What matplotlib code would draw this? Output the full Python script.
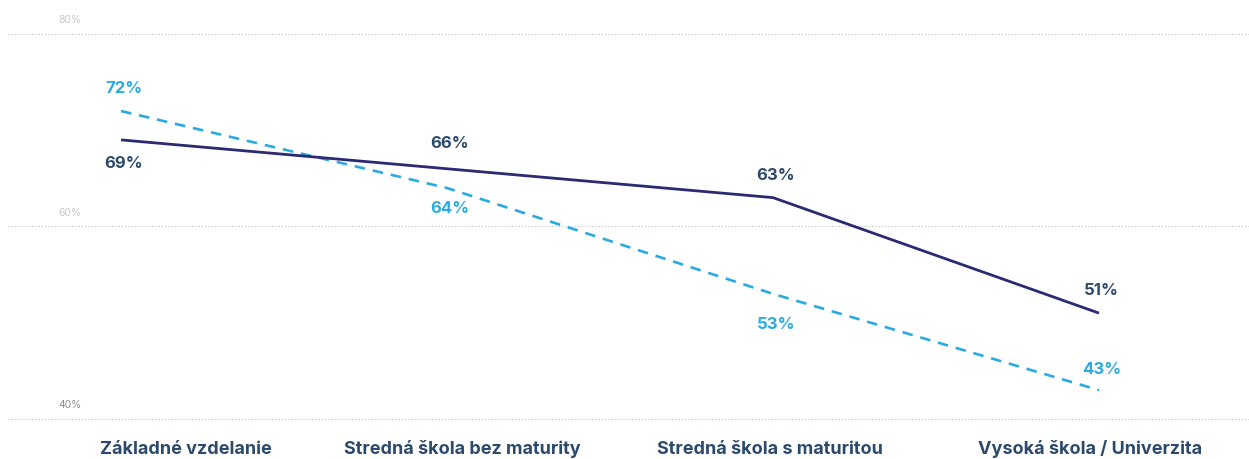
import matplotlib.pyplot as plt
import numpy as np

# Data
categories = ['Základné vzdelanie', 'Stredná škola bez maturity',
              'Stredná škola s maturitou', 'Vysoká škola / Univerzita']
series_dark = [69, 66, 63, 51]
series_blue = [72, 64, 53, 43]
y_ticks = [40, 60, 80]

DARK_LINE = '#2b2a72'
DARK_TEXT = '#2c4a6c'
BLUE = '#29abe2'

plt.rcParams['font.family'] = ['Inter', 'DejaVu Sans']

W, H = 1249, 459
fig = plt.figure(figsize=(W / 100, H / 100), dpi=100)

# axes spans the gridlines: x 8..1249 px, y 34..419 px
ax = fig.add_axes([8 / W, (H - 419) / H, 1 - 8 / W, (419 - 34) / H])
x = np.arange(len(categories))
px_per_unit = 326
x_first = 121
ax.set_xlim((8 - x_first) / px_per_unit, (W - x_first) / px_per_unit)
ax.set_ylim(40, 80)

for s in ax.spines.values():
    s.set_visible(False)
ax.set_xticks([])
ax.set_yticks([])

# gridlines and y labels
for t in y_ticks:
    ax.axhline(t, color='#bdbdbd', lw=0.8, ls=(0, (1, 2)), zorder=0, clip_on=False)
    ax.annotate(f'{t}%', xy=((70 - 8) / (W - 8), t),
                xycoords=('axes fraction', 'data'),
                xytext=(0, 10), textcoords='offset points',
                ha='center', va='center', fontsize=7.5,
                color='#8a8a8a' if t == 40 else '#c8c8c8')

ax.plot(x, series_dark, color=DARK_LINE, lw=2, solid_capstyle='butt', zorder=3)
ax.plot(x, series_blue, color=BLUE, lw=1.9, ls=(0, (4, 3)), zorder=2)

# value labels (offset in points: + above, - below)
dark_off = [-17, 18, 16, 16]
blue_off = [16, -15, -22, 15]
for i in range(len(categories)):
    ax.annotate(f'{series_dark[i]}%', xy=(x[i], series_dark[i]),
                xytext=(2, dark_off[i]), textcoords='offset points',
                ha='center', va='center', fontsize=12, fontweight='bold',
                color=DARK_TEXT)
    ax.annotate(f'{series_blue[i]}%', xy=(x[i], series_blue[i]),
                xytext=(2, blue_off[i]), textcoords='offset points',
                ha='center', va='center', fontsize=12, fontweight='bold',
                color=BLUE)

# category labels
label_px = [186, 462, 770, 1090]
for cx, name in zip(label_px, categories):
    fig.text(cx / W, (H - 449) / H, name, ha='center', va='center',
             fontsize=13, fontweight='bold', color=DARK_TEXT)

fig.savefig('out.png', dpi=100)
